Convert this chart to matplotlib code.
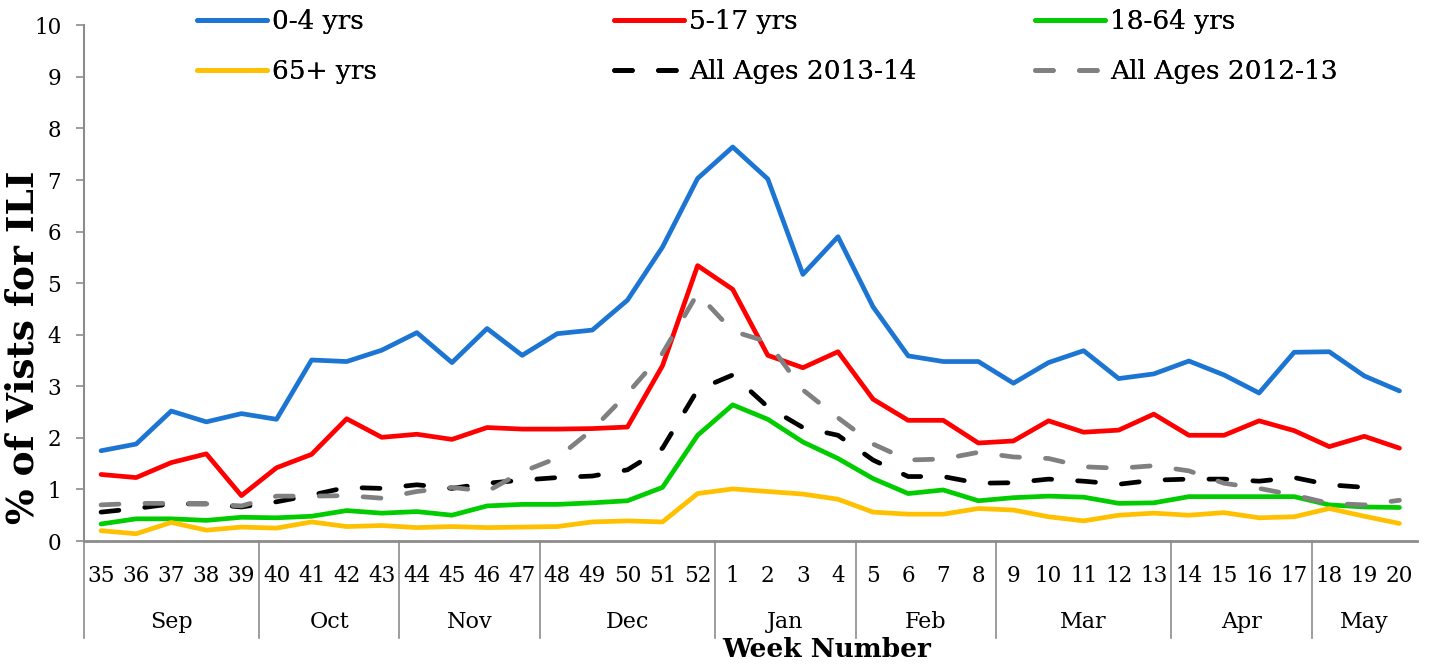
import numpy as np
import matplotlib
matplotlib.use("Agg")
from matplotlib import pyplot as plt

# weekly ILI share by age group, 2013-14 season
weeks = [35, 36, 37, 38, 39, 40, 41, 42, 43, 44, 45, 46, 47, 48, 49, 50, 51, 52,
         1, 2, 3, 4, 5, 6, 7, 8, 9, 10, 11, 12, 13, 14, 15, 16, 17, 18, 19, 20]

age_0_4 = [1.75, 1.88, 2.52, 2.31, 2.47, 2.36, 3.51, 3.48, 3.70, 4.04, 3.46, 4.12, 3.60, 4.02, 4.09, 4.67, 5.70, 7.03,
           7.64, 7.02, 5.17, 5.90, 4.54, 3.59, 3.48, 3.48, 3.06, 3.46, 3.69, 3.15, 3.24, 3.49, 3.22, 2.87, 3.66, 3.67, 3.20, 2.91]
age_5_17 = [1.29, 1.23, 1.52, 1.69, 0.88, 1.42, 1.68, 2.37, 2.01, 2.07, 1.97, 2.20, 2.17, 2.17, 2.18, 2.21, 3.40, 5.34,
            4.88, 3.60, 3.36, 3.67, 2.75, 2.34, 2.34, 1.90, 1.94, 2.33, 2.11, 2.15, 2.46, 2.05, 2.05, 2.33, 2.14, 1.83, 2.03, 1.80]
age_18_64 = [0.33, 0.43, 0.43, 0.40, 0.46, 0.45, 0.48, 0.59, 0.54, 0.57, 0.50, 0.68, 0.71, 0.71, 0.74, 0.78, 1.04, 2.05,
             2.64, 2.36, 1.92, 1.60, 1.21, 0.92, 0.99, 0.78, 0.84, 0.87, 0.85, 0.73, 0.74, 0.86, 0.86, 0.86, 0.86, 0.70, 0.66, 0.65]
age_65 = [0.20, 0.14, 0.36, 0.21, 0.27, 0.25, 0.37, 0.28, 0.30, 0.26, 0.28, 0.26, 0.27, 0.28, 0.37, 0.39, 0.37, 0.92,
          1.01, 0.96, 0.91, 0.81, 0.56, 0.52, 0.52, 0.63, 0.60, 0.47, 0.39, 0.50, 0.54, 0.50, 0.55, 0.45, 0.47, 0.63, 0.48, 0.34]
all_2013_14 = [0.56, 0.63, 0.72, 0.72, 0.66, 0.76, 0.89, 1.04, 1.02, 1.09, 1.02, 1.12, 1.18, 1.23, 1.26, 1.38, 1.80, 2.93,
               3.22, 2.60, 2.20, 2.05, 1.57, 1.25, 1.25, 1.12, 1.13, 1.20, 1.16, 1.10, 1.18, 1.20, 1.20, 1.16, 1.23, 1.09, 1.04, np.nan]
all_2012_13 = [0.70, 0.73, 0.73, 0.72, 0.68, 0.87, 0.87, 0.88, 0.83, 0.96, 1.04, 0.96, 1.34, 1.61, 2.16, 2.86, 3.64, 4.80,
               4.07, 3.86, 2.93, 2.39, 1.88, 1.57, 1.59, 1.72, 1.63, 1.60, 1.44, 1.41, 1.46, 1.36, 1.12, 1.02, 0.89, 0.73, 0.70, 0.79]

months = ["Sep", "Oct", "Nov", "Dec", "Jan", "Feb", "Mar", "Apr", "May"]
weeks_per_month = [5, 4, 4, 5, 4, 4, 5, 4, 3]

plt.rcParams['font.family'] = ['DejaVu Serif']

fig = plt.figure(figsize=(14.29, 6.68), dpi=100)
ax = fig.add_axes([83.5 / 1429, 127 / 668, 1333.5 / 1429, 515.7 / 668])

x = np.arange(len(weeks))
lw = 3.4
series = [
    (age_0_4, "0-4 yrs", "#1C75D2", "-"),
    (age_5_17, "5-17 yrs", "#FF0000", "-"),
    (age_18_64, "18-64 yrs", "#00CC00", "-"),
    (age_65, "65+ yrs", "#FFC000", "-"),
    (all_2013_14, "All Ages 2013-14", "#000000", "--"),
    (all_2012_13, "All Ages 2012-13", "#808080", "--"),
]
lines = []
for vals, lab, col, ls in series:
    ln, = ax.plot(x, vals, color=col, lw=lw, label=lab, linestyle=ls,
                  solid_capstyle="round", dash_capstyle="round", solid_joinstyle="round")
    if ls == "--":
        ln.set_dashes([3.8, 5.5])
    lines.append(ln)

ax.set_xlim(-0.5, len(weeks) - 0.5)
ax.set_ylim(0, 10)
ax.set_yticks(range(0, 11))

for s in ["top", "right"]:
    ax.spines[s].set_visible(False)
ax.spines["left"].set_color("#8c8c8c")
ax.spines["left"].set_linewidth(1.5)
ax.spines["bottom"].set_color("#8c8c8c")
ax.spines["bottom"].set_linewidth(2)

ax.tick_params(axis="y", direction="out", length=6, width=1.2, color="#8c8c8c",
               labelsize=15.5, pad=10)
ax.set_xticks(x, [str(w) for w in weeks])
ax.tick_params(axis="x", length=0, labelsize=15.5, pad=17)

# month groups below the week numbers, with separators
trans = ax.get_xaxis_transform()
start = 0
for m, n in zip(months, weeks_per_month):
    ax.plot([start - 0.5, start - 0.5], [0, -0.188], transform=trans, color="#8c8c8c",
            lw=1.2, clip_on=False)
    ax.text(start + (n - 1) / 2, -0.157, m, transform=trans, ha="center", va="center",
            fontsize=16)
    start += n

ax.set_ylabel("% of Vists for ILI", fontsize=27, fontweight="bold")
ax.yaxis.set_label_coords(-0.0315, 0.376)
ax.set_xlabel("Week Number", fontsize=19, fontweight="bold")
ax.xaxis.set_label_coords(0.557, -0.187)

# legend: three columns, two rows
col_x = [197, 614, 1035]
for i in range(3):
    leg = fig.legend(handles=[lines[i], lines[i + 3]], loc="upper left",
                     bbox_to_anchor=(col_x[i] / 1429, 1 - 9 / 668),
                     frameon=False, fontsize=19, handlelength=2.65, handletextpad=0.2,
                     labelspacing=0.95, borderpad=0, borderaxespad=0)
    fig.add_artist(leg)

fig.savefig("out.png", dpi=100)
